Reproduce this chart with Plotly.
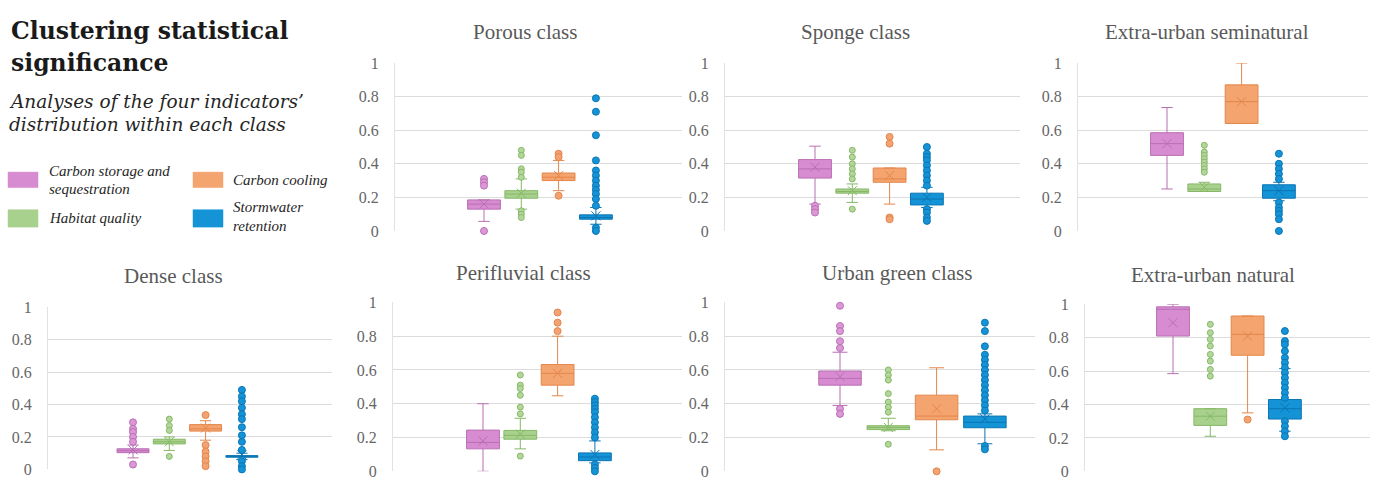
import plotly.graph_objects as go

W, H = 1381, 489

# ---------------- DATA ----------------
CLASSES = ["Porous class", "Sponge class", "Extra-urban seminatural",
           "Dense class", "Perifluvial class", "Urban green class", "Extra-urban natural"]
INDICATORS = ["Carbon storage and sequestration", "Habitat quality",
              "Carbon cooling", "Stormwater retention"]

# one row per class, columns = [carbon storage, habitat quality, carbon cooling, stormwater]
Q1 = [
    [0.13, 0.195, 0.30, 0.07],
    [0.315, 0.225, 0.29, 0.155],
    [0.45, 0.235, 0.64, 0.195],
    [0.103, 0.157, 0.236, 0.075],
    [0.133, 0.19, 0.51, 0.063],
    [0.51, 0.247, 0.305, 0.258],
    [0.81, 0.275, 0.695, 0.313],
]
MEDIAN = [
    [0.16, 0.22, 0.32, 0.08],
    [0.37, 0.235, 0.31, 0.19],
    [0.52, 0.25, 0.77, 0.24],
    [0.115, 0.17, 0.25, 0.08],
    [0.171, 0.213, 0.58, 0.085],
    [0.55, 0.26, 0.327, 0.29],
    [0.97, 0.33, 0.82, 0.375],
]
Q3 = [
    [0.185, 0.24, 0.345, 0.096],
    [0.425, 0.25, 0.375, 0.225],
    [0.585, 0.28, 0.87, 0.275],
    [0.127, 0.186, 0.276, 0.085],
    [0.244, 0.242, 0.632, 0.109],
    [0.594, 0.27, 0.451, 0.327],
    [0.985, 0.375, 0.93, 0.43],
]
LOWER = [
    [0.057, 0.13, 0.24, 0.04],
    [0.16, 0.17, 0.16, 0.14],
    [0.25, 0.235, 0.64, 0.18],
    [0.071, 0.117, 0.18, 0.06],
    [0.0, 0.133, 0.447, 0.05],
    [0.39, 0.24, 0.127, 0.163],
    [0.585, 0.21, 0.35, 0.24],
]
UPPER = [
    [0.185, 0.31, 0.42, 0.14],
    [0.505, 0.28, 0.375, 0.26],
    [0.735, 0.29, 1.0, 0.29],
    [0.15, 0.20, 0.30, 0.10],
    [0.40, 0.314, 0.80, 0.18],
    [0.705, 0.314, 0.613, 0.34],
    [1.0, 0.375, 0.93, 0.615],
]
MEAN = [
    [0.16, 0.225, 0.33, 0.09],
    [0.38, 0.24, 0.33, 0.20],
    [0.52, 0.26, 0.77, 0.24],
    [0.12, 0.17, 0.255, 0.09],
    [0.18, 0.22, 0.58, 0.10],
    [0.56, 0.26, 0.37, 0.31],
    [0.89, 0.33, 0.81, 0.38],
]
OUTLIERS = [
    [[0.31, 0.29, 0.27, 0.0],
     [0.48, 0.45, 0.37, 0.35, 0.32, 0.12, 0.10, 0.08],
     [0.46, 0.44, 0.21],
     [0.79, 0.71, 0.57, 0.42, 0.36, 0.33, 0.30, 0.27, 0.245, 0.22, 0.19, 0.15, 0.02, 0.0]],
    [[0.15, 0.13, 0.11],
     [0.48, 0.44, 0.40, 0.37, 0.34, 0.31, 0.13],
     [0.56, 0.52, 0.08, 0.07],
     [0.50, 0.46, 0.44, 0.42, 0.39, 0.36, 0.33, 0.30, 0.27, 0.13, 0.11, 0.08, 0.06]],
    [[],
     [0.51, 0.47, 0.45, 0.43, 0.41, 0.39, 0.37, 0.35],
     [],
     [0.46, 0.40, 0.37, 0.34, 0.31, 0.17, 0.14, 0.12, 0.10, 0.07, 0.0]],
    [[0.29, 0.25, 0.23, 0.20, 0.17, 0.03],
     [0.31, 0.27, 0.24, 0.08],
     [0.335, 0.15, 0.11, 0.08, 0.05, 0.02],
     [0.49, 0.45, 0.42, 0.38, 0.34, 0.31, 0.26, 0.21, 0.17, 0.12, 0.05, 0.02, 0.0]],
    [[],
     [0.57, 0.51, 0.49, 0.45, 0.38, 0.34, 0.09],
     [0.94, 0.88, 0.83],
     [0.43, 0.41, 0.39, 0.37, 0.35, 0.32, 0.29, 0.26, 0.23, 0.20, 0.04, 0.02, 0.0]],
    [[0.98, 0.86, 0.83, 0.77, 0.73, 0.37, 0.34],
     [0.60, 0.57, 0.54, 0.46, 0.41, 0.38, 0.35, 0.16],
     [0.0],
     [0.88, 0.83, 0.74, 0.69, 0.66, 0.63, 0.60, 0.57, 0.54, 0.51, 0.48, 0.45, 0.42, 0.39, 0.36, 0.15, 0.13]],
    [[],
     [0.88, 0.83, 0.79, 0.75, 0.70, 0.66, 0.61, 0.57],
     [0.31],
     [0.84, 0.78, 0.76, 0.72, 0.68, 0.65, 0.62, 0.59, 0.56, 0.53, 0.50, 0.47, 0.44, 0.30, 0.27, 0.24, 0.21]],
]
TICK_VALS = [0, 0.2, 0.4, 0.6, 0.8, 1]
TICK_TEXT = ["0", "0.2", "0.4", "0.6", "0.8", "1"]

# ---------------- STYLE / LAYOUT ----------------
FILL = ["#D78BD1", "#A9D18E", "#F4A46F", "#1493D6"]
EDGE = ["#B96FB3", "#86B866", "#E4864B", "#0B76B4"]
DOT = ["#DC98D6", "#B3D79B", "#F3A373", "#1493D6"]
DOT_SIZE = [7, 6, 7, 7]

# panel pixel geometry: (left, right, top, bottom, first box centre, box spacing, title cx, title cy)
PANELS = [
    (395, 682, 57, 231, 484, 37.3, 525, 25),
    (725, 1020, 57, 231, 815, 37.3, 855, 25),
    (1078, 1368, 57, 231, 1167, 37.3, 1207, 25),
    (48, 332, 310, 478, 133, 36.3, 173, 278),
    (393, 682, 305, 480, 483, 37.3, 523, 275),
    (725, 1035, 305, 480, 840, 48.3, 897, 275),
    (1085, 1370, 307, 480, 1173, 37.3, 1213, 277),
]

SERIF = "Liberation Serif, Times New Roman, serif"
PALA = "DejaVu Serif, serif"
GREY = "#595959"


def px(x):
    return x / W


def py(y):
    return 1 - y / H


fig = go.Figure()
layout = dict(
    width=W, height=H, margin=dict(l=0, r=0, t=0, b=0),
    paper_bgcolor="white", plot_bgcolor="white", showlegend=False,
    boxmode="overlay",
)
annotations = []
shapes = []

for p, (l, r, t, b, c0, sp, tcx, tcy) in enumerate(PANELS):
    sfx = "" if p == 0 else str(p + 1)
    xa, ya = "x" + sfx, "y" + sfx
    layout["xaxis" + sfx] = dict(
        domain=[px(l), px(r)], range=[(l - c0) / sp, (r - c0) / sp],
        anchor=ya, showgrid=False, zeroline=False, showticklabels=False,
        showline=False, fixedrange=True,
    )
    layout["yaxis" + sfx] = dict(
        domain=[py(b), py(t)], range=[0, 1], anchor=xa,
        tickvals=TICK_VALS, ticktext=TICK_TEXT,
        showgrid=True, gridcolor="#DCDCDC", gridwidth=1, zeroline=False,
        showline=True, linecolor="#E2E2E2", linewidth=1,
        ticks="outside", ticklen=12, tickcolor="rgba(0,0,0,0)",
        tickfont=dict(family=SERIF, size=16, color="#666666"), fixedrange=True,
    )
    annotations.append(dict(
        text=CLASSES[p], x=px(tcx), y=py(tcy), xref="paper", yref="paper",
        xanchor="center", yanchor="middle", showarrow=False,
        font=dict(family=SERIF, size=21, color=GREY),
    ))
    for k in range(4):
        fig.add_trace(go.Box(
            x=[k], q1=[Q1[p][k]], median=[MEDIAN[p][k]], q3=[Q3[p][k]],
            lowerfence=[LOWER[p][k]], upperfence=[UPPER[p][k]],
            width=0.88, whiskerwidth=0.35, boxpoints=False,
            fillcolor=FILL[k], line=dict(color=EDGE[k], width=1),
            name=INDICATORS[k], xaxis=xa, yaxis=ya, showlegend=False,
        ))
        outs = OUTLIERS[p][k]
        if outs:
            fig.add_trace(go.Scatter(
                x=[k] * len(outs), y=outs, mode="markers", xaxis=xa, yaxis=ya,
                marker=dict(symbol="circle", size=DOT_SIZE[k], color=DOT[k],
                            line=dict(color=EDGE[k], width=1)),
                cliponaxis=False, showlegend=False, name=INDICATORS[k],
            ))
        fig.add_trace(go.Scatter(
            x=[k], y=[MEAN[p][k]], mode="markers", xaxis=xa, yaxis=ya,
            marker=dict(symbol="x-thin", size=9, line=dict(color=EDGE[k], width=1)),
            cliponaxis=False, showlegend=False, name=INDICATORS[k] + " mean",
        ))

# ---------------- header text ----------------
header = [
    dict(text="<b>Clustering statistical</b>", x=px(9), y=py(24), xanchor="left", yanchor="middle",
         font=dict(family=PALA, size=23.5, color="#1a1a1a")),
    dict(text="<b>significance</b>", x=px(9), y=py(57), xanchor="left", yanchor="middle",
         font=dict(family=PALA, size=23.5, color="#1a1a1a")),
    dict(text="<i>Analyses of the four indicators’</i>", x=px(7), y=py(97), xanchor="left",
         yanchor="middle", font=dict(family=PALA, size=18.5, color="#262626")),
    dict(text="<i>distribution within each class</i>", x=px(7), y=py(121), xanchor="left",
         yanchor="middle", font=dict(family=PALA, size=18.5, color="#262626")),
]
for a in header:
    a.update(xref="paper", yref="paper", showarrow=False)
annotations += header

# ---------------- legend ----------------
LEG_SWATCH = [(8, 38, 170, 186), (8, 38, 209, 227), (193, 223, 170, 186), (193, 223, 209, 227)]
for k, (x0, x1, y0, y1) in enumerate(LEG_SWATCH):
    shapes.append(dict(type="rect", xref="paper", yref="paper",
                       x0=px(x0), x1=px(x1), y0=py(y1), y1=py(y0),
                       fillcolor=FILL[k], line=dict(color=FILL[k], width=0.5)))
LEG_TEXT = [
    ("Carbon storage and", 47, 169), ("sequestration", 47, 188),
    ("Habitat quality", 47, 218),
    ("Carbon cooling", 231, 178),
    ("Stormwater", 231, 206), ("retention", 231, 226),
]
for txt, x, y in LEG_TEXT:
    annotations.append(dict(text="<i>" + txt + "</i>", x=px(x), y=py(y), xref="paper", yref="paper",
                            xanchor="left", yanchor="middle", showarrow=False,
                            font=dict(family=SERIF, size=15, color="#262626")))

layout["annotations"] = annotations
layout["shapes"] = shapes
fig.update_layout(**layout)
fig.write_html("out.html", config={"displayModeBar": False},
               post_script="document.body.style.margin='0';document.body.style.padding='0';")
